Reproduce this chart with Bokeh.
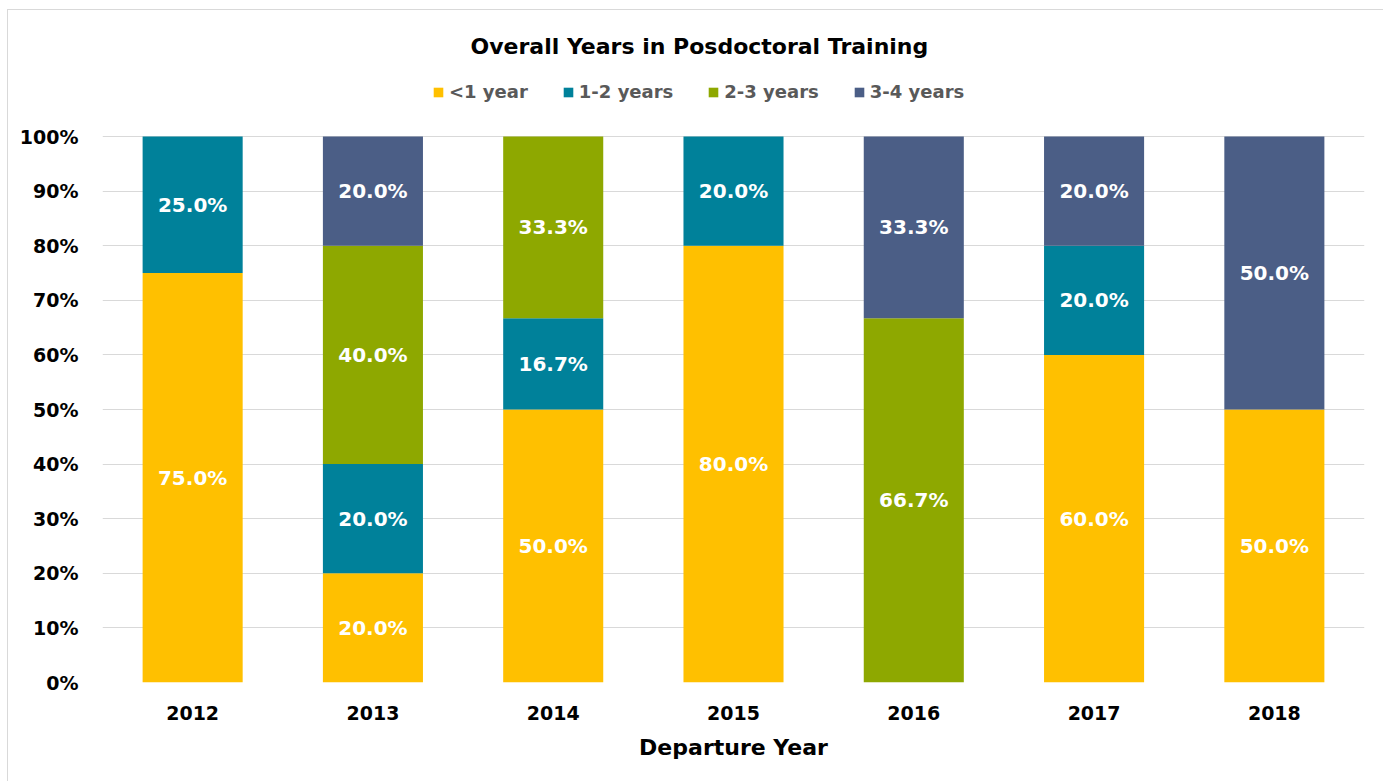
from bokeh.plotting import figure
from bokeh.models import ColumnDataSource, NumeralTickFormatter, Legend, LegendItem, FixedTicker, Range1d
from bokeh.core.properties import value
from bokeh.embed import file_html
from bokeh.resources import INLINE

years = ["2012", "2013", "2014", "2015", "2016", "2017", "2018"]
series = ["<1 year", "1-2 years", "2-3 years", "3-4 years"]
lt1 = [75.0, 20.0, 50.0, 80.0, 0.0, 60.0, 50.0]
y12 = [25.0, 20.0, 16.7, 20.0, 0.0, 20.0, 0.0]
y23 = [0.0, 40.0, 33.3, 0.0, 66.7, 0.0, 0.0]
y34 = [0.0, 20.0, 0.0, 0.0, 33.3, 20.0, 50.0]
colors = ["#FFC000", "#00819A", "#8EA800", "#4B5E86"]
ticks = [0.0, 0.1, 0.2, 0.3, 0.4, 0.5, 0.6, 0.7, 0.8, 0.9, 1.0]

FONT = "DejaVu Sans"
vals = [lt1, y12, y23, y34]
keys = ["s0", "s1", "s2", "s3"]
data = {"year": years}
for k, v in zip(keys, vals):
    data[k] = [x / 100.0 for x in v]
src = ColumnDataSource(data)

# frame extends above 100% to hold the legend row
p = figure(x_range=years, y_range=Range1d(0, 616.0 / 546.0), width=1376, height=772,
           output_backend="svg", toolbar_location=None,
           min_border_left=94, min_border_right=20, min_border_bottom=100, min_border_top=56)
p.styles = {"margin-left": "7px", "margin-top": "9px",
            "border-left": "1px solid #d9d9d9", "border-top": "1px solid #d9d9d9"}

renderers = p.vbar_stack(keys, x="year", width=0.555, color=colors, source=src, line_width=0)

# labels
lx, ly, lt = [], [], []
for i, yr in enumerate(years):
    base = 0.0
    for v in vals:
        if v[i] > 0:
            lx.append(yr)
            ly.append((base + v[i] / 2.0) / 100.0)
            lt.append(f"{v[i]:.1f}%")
        base += v[i]
p.text(x=lx, y=ly, text=lt, text_color="white", text_font=value(FONT), text_font_style="bold",
       text_font_size="20px", text_align="center", text_baseline="middle")

p.title.text = "Overall Years in Posdoctoral Training"
p.title.align = "left"
p.title.offset = 368
p.title.standoff = 16
p.title.text_font = FONT
p.title.text_font_size = "22px"
p.title.text_font_style = "bold"
p.title.text_color = "#000000"

legend = Legend(items=[LegendItem(label=s, renderers=[r]) for s, r in zip(series, renderers)],
                orientation="horizontal", location=(330, 580),
                label_text_font=FONT, label_text_font_size="18px", label_text_font_style="bold",
                label_text_color="#595959", glyph_width=12, glyph_height=12,
                spacing=34, label_standoff=5, border_line_color=None, background_fill_alpha=0,
                margin=0, padding=0)
p.add_layout(legend, "center")

p.yaxis.ticker = FixedTicker(ticks=ticks)
p.yaxis.formatter = NumeralTickFormatter(format="0%")
for ax in [p.xaxis[0], p.yaxis[0]]:
    ax.axis_line_color = None
    ax.major_tick_line_color = None
    ax.minor_tick_line_color = None
    ax.major_label_text_font = FONT
    ax.major_label_text_font_style = "bold"
    ax.major_label_text_font_size = "19px"
    ax.major_label_text_color = "#000000"
p.yaxis.major_label_standoff = 18
p.xaxis.major_label_standoff = 17
p.xaxis.axis_label = "Departure Year"
p.xaxis.axis_label_text_font = FONT
p.xaxis.axis_label_text_font_size = "22px"
p.xaxis.axis_label_text_font_style = "bold"
p.xaxis.axis_label_text_color = "#000000"
p.xaxis.axis_label_standoff = 12

p.xgrid.grid_line_color = None
p.ygrid.grid_line_color = "#d9d9d9"
p.ygrid.grid_line_width = 1
p.outline_line_color = None
p.x_range.range_padding = 0.0

open("out.html", "w").write(file_html(p, INLINE))
